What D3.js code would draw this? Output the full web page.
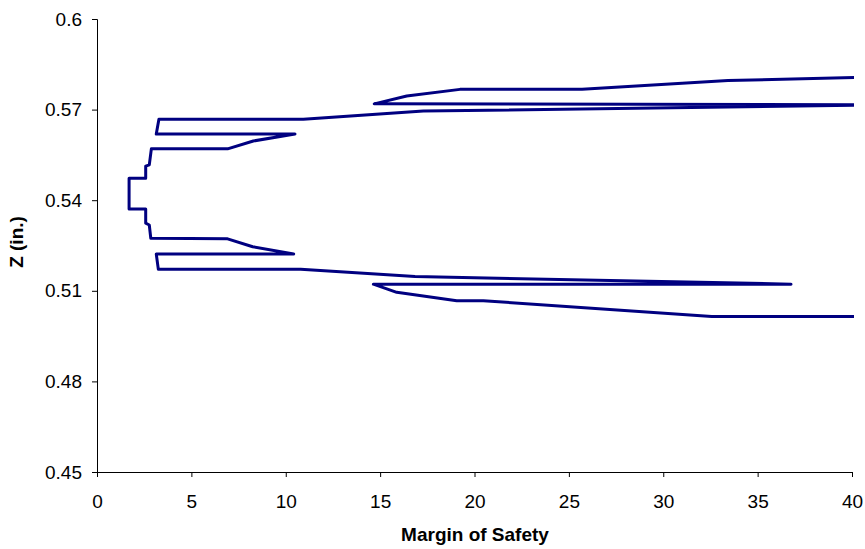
<!DOCTYPE html>
<html><head><meta charset="utf-8">
<script src="https://cdn.jsdelivr.net/npm/d3@7"></script>
<style>body{margin:0;background:#fff}svg{display:block;font-family:"Liberation Sans",Arial,sans-serif}</style>
</head><body><svg id="c" width="865" height="549"></svg>
<script>
const marginX = [41.0,33.43,25.7,19.23,16.41,14.69,41.5,17.29,10.93,3.28,3.14,10.49,8.28,6.92,2.88,2.77,2.58,2.58,1.70,1.70,2.58,2.58,2.77,2.85,6.92,8.25,10.42,3.14,3.25,10.79,16.85,36.77,14.64,15.88,19.06,20.47,32.57,41.0];
const zValues = [0.5808,0.5796,0.5767,0.5767,0.5745,0.5719,0.5716,0.5695,0.5668,0.5668,0.5619,0.5619,0.5596,0.5570,0.5570,0.5517,0.5513,0.5473,0.5473,0.5371,0.5371,0.5324,0.5318,0.5274,0.5272,0.5246,0.5222,0.5222,0.5171,0.5171,0.5147,0.5122,0.5122,0.5095,0.5067,0.5067,0.5015,0.5015];
const xTicks = [0,5,10,15,20,25,30,35,40];
const yTicks = [0.45,0.48,0.51,0.54,0.57,0.6];

const svg = d3.select("#c");
const L=97,R=852,T=19,B=472;
const FS = 19;
const x = d3.scaleLinear().domain([0,40]).range([L,R]);
const y = d3.scaleLinear().domain([0.45,0.6]).range([B,T]);

svg.append("defs").append("clipPath").attr("id","clip")
  .append("rect").attr("x",L).attr("y",T-2).attr("width",R-L+2).attr("height",B-T+4);

const xa = svg.append("g").attr("transform",`translate(0,${B})`)
  .call(d3.axisBottom(x).tickValues(xTicks).tickSize(5).tickPadding(18).tickFormat(d3.format("d")));
const ya = svg.append("g").attr("transform",`translate(${L},0)`)
  .call(d3.axisLeft(y).tickValues(yTicks).tickSize(5).tickPadding(10).tickFormat(d=>String(+d.toFixed(2))));
[xa,ya].forEach(a=>{
  a.attr("font-size",FS).attr("font-family","Liberation Sans, Arial, sans-serif");
  a.select(".domain").attr("stroke","#000").attr("stroke-width",1);
  a.selectAll(".tick line").attr("stroke","#000");
  a.selectAll("text").attr("fill","#000");
});

const pts = marginX.map((v,i)=>[v,zValues[i]]);
svg.append("path").attr("clip-path","url(#clip)")
  .datum(pts)
  .attr("d", d3.line().x(d=>x(d[0])).y(d=>y(d[1])))
  .attr("fill","none").attr("stroke","#000080").attr("stroke-width",3)
  .attr("stroke-linejoin","round").attr("stroke-linecap","round");

svg.append("text").attr("x",475).attr("y",541).attr("text-anchor","middle")
  .attr("font-size",FS).attr("font-weight","bold").text("Margin of Safety");
svg.append("text").attr("transform","translate(23,242) rotate(-90)").attr("text-anchor","middle")
  .attr("font-size",FS).attr("font-weight","bold").text("Z (in.)");
</script></body></html>
